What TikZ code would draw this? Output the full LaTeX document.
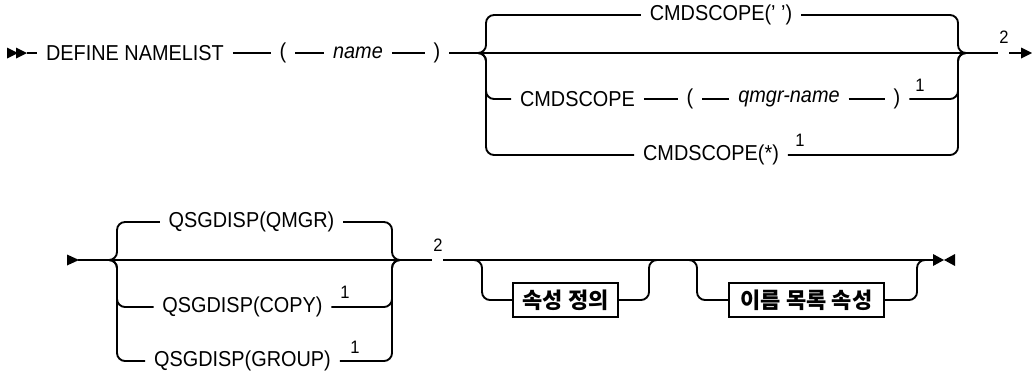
\documentclass[tikz,border=0pt]{standalone}
\usepackage{fontspec}
\setmainfont{Liberation Sans}[FakeStretch=0.92]
\newfontfamily\kr{Noto Sans CJK KR}
\usetikzlibrary{calc}
\begin{document}
\begin{tikzpicture}[x=0.75pt,y=-0.75pt,
  syn/.style={line width=1.4pt, rounded corners=6pt},
  tok/.style={font=\fontsize{16.2}{19}\selectfont, inner xsep=6.5pt, inner ysep=3pt},
  sup/.style={font=\fontsize{13.5}{16}\selectfont, inner sep=0pt},
  optbox/.style={draw, line width=1.4pt, font=\kr\bfseries\fontsize{16.5}{19}\selectfont,
    minimum height=25.5pt, inner sep=0pt},
  tipfill/.style={fill=black, draw=none}]
\useasboundingbox (0,0) rectangle (1032,375);

% ---------- Row 1 ----------
\coordinate (s1) at (27,53);
\fill[tipfill] (7,47.5) -- (18,53) -- (7,58.5) -- cycle;
\fill[tipfill] (16,47.5) -- (27,53) -- (16,58.5) -- cycle;
\node[tok] (def) at (135,53) {DEFINE NAMELIST};
\node[tok] (lp1) at (283,53) {(};
\node[tok] (name) at (358,53) {\itshape name};
\node[tok] (rp1) at (437,53) {)};
\coordinate (J1) at (478,53);
\coordinate (J2) at (966,53);
\draw[syn] (s1) -- (def);
\draw[syn] (def) -- (lp1) -- (name) -- (rp1) -- (J1);

\node[tok] (q1) at (721,15) {CMDSCOPE(' ')};
\node[tok] (c2) at (577.5,99) {CMDSCOPE};
\node[tok] (lp2) at (690,99) {(};
\node[tok] (qm) at (789,99) {\itshape qmgr-name};
\node[tok] (rp2) at (897,99) {)};
\node[sup] (n1a) at (920,85) {1};
\node[tok] (c3) at (711,155) {CMDSCOPE(*)};
\node[sup] (n1b) at (800,140) {1};

\draw[syn] (J1) -- (J2);
\draw[syn] (J1) -- ++(8,0) |- (q1.west);
\draw[syn] (J1) -- ++(8,0) |- (c2.west);
\draw[syn] (J1) -- ++(8,0) |- (c3.west);
\draw[syn] (c2) -- (lp2) -- (qm) -- (rp2);
\draw[syn] (q1.east) -| ($(J2)+(-8,0)$) -- (J2);
\draw[syn] (rp2.east) -| ($(J2)+(-8,0)$) -- (J2);
\draw[syn] (c3.east) -| ($(J2)+(-8,0)$) -- (J2);

\coordinate (g1) at (998,53);
\coordinate (g2) at (1009,53);
\coordinate (t1) at (1022,53);
\node[sup] (two1) at (1004,37) {2};
\draw[syn] (J2) -- (g1);
\draw[syn] (g2) -- (t1);
\fill[tipfill] (1021,47.5) -- (1032,53) -- (1021,58.5) -- cycle;

% ---------- Row 2 ----------
\coordinate (s2) at (78,260);
\fill[tipfill] (67,254.5) -- (79,260) -- (67,265.5) -- cycle;
\coordinate (J3) at (109,260);
\coordinate (J4) at (400,260);
\draw[syn] (s2) -- (J3);

\node[tok] (qa) at (251.5,222) {QSGDISP(QMGR)};
\node[tok] (qb) at (242.5,307) {QSGDISP(COPY)};
\node[sup] (n1c) at (345,292) {1};
\node[tok] (qc) at (242.5,361) {QSGDISP(GROUP)};
\node[sup] (n1d) at (355,347) {1};

\draw[syn] (J3) -- (J4);
\draw[syn] (J3) -- ++(8,0) |- (qa.west);
\draw[syn] (J3) -- ++(8,0) |- (qb.west);
\draw[syn] (J3) -- ++(8,0) |- (qc.west);
\draw[syn] (qa.east) -| ($(J4)+(-8,0)$) -- (J4);
\draw[syn] (qb.east) -| ($(J4)+(-8,0)$) -- (J4);
\draw[syn] (qc.east) -| ($(J4)+(-8,0)$) -- (J4);

\coordinate (g3) at (432,260);
\coordinate (g4) at (443,260);
\node[sup] (two2) at (438,245) {2};
\draw[syn] (J4) -- (g3);

\coordinate (E) at (933,260);
\draw[syn] (g4) -- (E);

\coordinate (B1a) at (473,260);
\coordinate (B1b) at (657,260);
\node[optbox, minimum width=78.75pt] (box1) at (565.5,300) {속성 정의};
\draw[syn] (B1a) -- ++(9,0) |- (box1.west);
\draw[syn] (box1.east) -| ($(B1b)+(-8,0)$) -- (B1b);

\coordinate (B2a) at (689,260);
\coordinate (B2b) at (925,260);
\node[optbox, minimum width=116.25pt] (box2) at (806.5,300) {이름 목록 속성};
\draw[syn] (B2a) -- ++(8,0) |- (box2.west);
\draw[syn] (box2.east) -| ($(B2b)+(-8,0)$) -- (B2b);

\fill[tipfill] (933,254) -- (944,260) -- (933,266) -- cycle;
\fill[tipfill] (955,254) -- (944,260) -- (955,266) -- cycle;
\end{tikzpicture}
\end{document}
